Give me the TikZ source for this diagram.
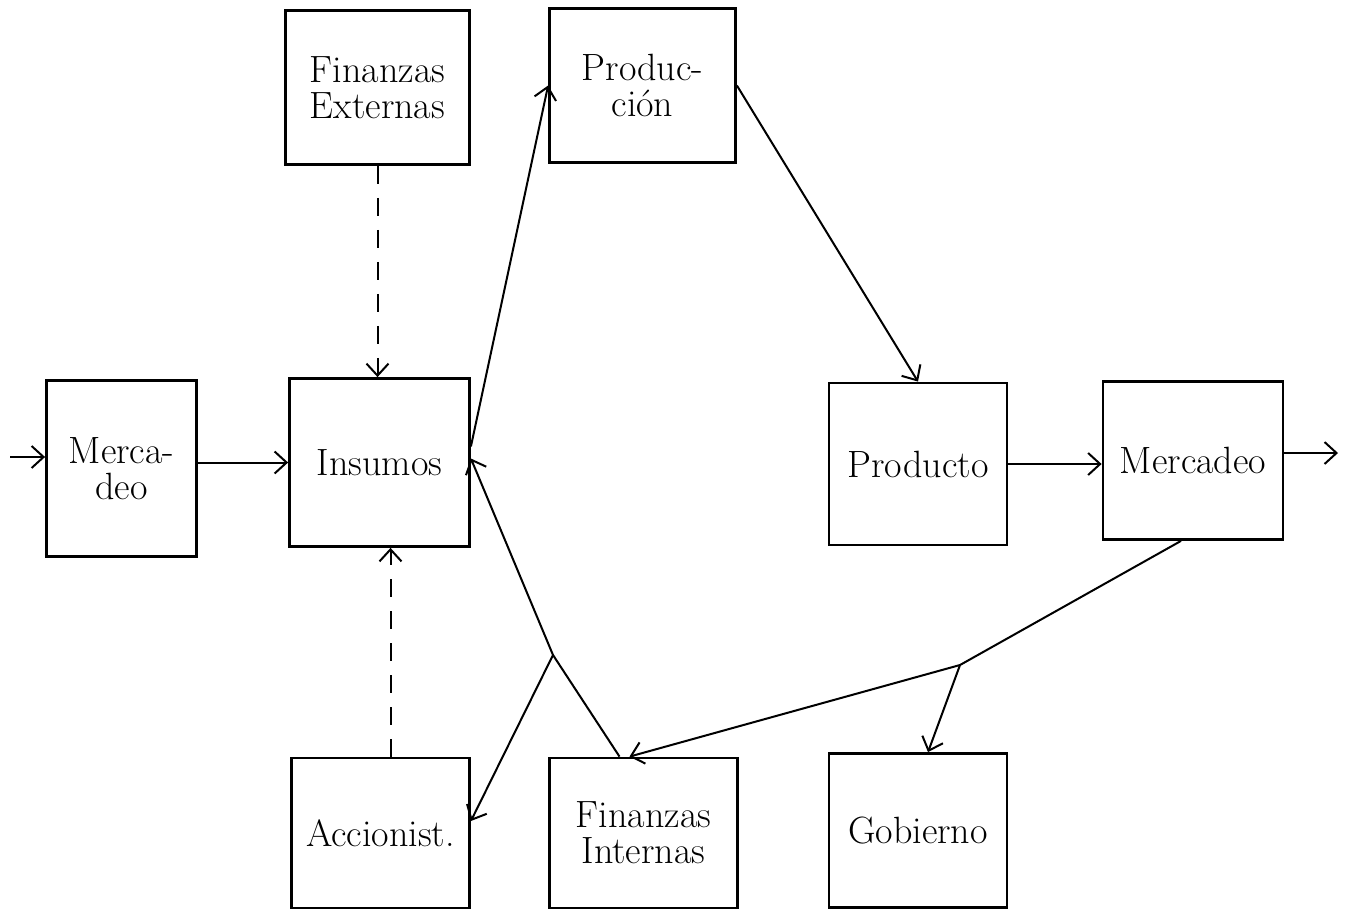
\documentclass[tikz,border=0pt]{standalone}
\usetikzlibrary{arrows.meta}
\tikzset{
  blk/.style={draw, line width=1.4pt, align=center, inner sep=0pt, font=\fontsize{19}{18}\selectfont},
  arr/.style={line width=1pt, -{Straight Barb[length=6pt,width=11pt]}},
  dsh/.style={arr, dash pattern=on 9pt off 7pt}
}
\begin{document}
\begin{tikzpicture}[x=0.5pt, y=-0.5pt]
\useasboundingbox (0,0) rectangle (1348,911);
\node[blk, minimum width=92pt, minimum height=77pt] (finext) at (377.5,87.5){Finanzas\\Externas};
\node[blk, minimum width=93pt, minimum height=77pt] (prod) at (642.5,85.5){Produc-\\ci\'on};
\node[blk, minimum width=75pt, minimum height=88pt] (merc1) at (121.5,468.5){Merca-\\deo};
\node[blk, minimum width=90pt, minimum height=84pt] (insumos) at (379.5,462.5){Insumos};
\node[blk, minimum width=89pt, minimum height=81pt] (producto) at (918,464){Producto};
\node[blk, minimum width=90pt, minimum height=79pt] (merc2) at (1193,460.5){Mercadeo};
\node[blk, minimum width=89pt, minimum height=75pt] (accion) at (380.5,833){Accionist.};
\node[blk, minimum width=94pt, minimum height=75pt] (finint) at (643.5,833){Finanzas\\Internas};
\node[blk, minimum width=89pt, minimum height=77pt] (gob) at (918,830.5){Gobierno};
\coordinate (in) at (10,457);
\coordinate (out) at (1338,453);
\coordinate (jL) at (553,655);
\coordinate (jR) at (960,665);
% entrada y salida
\draw[arr] (in) -- (in -| merc1.west);
\draw[arr] (merc1.east |- insumos.west) -- (insumos.west);
\draw[arr] (merc2.east |- out) -- (out);
% finanzas
\draw[dsh] (finext.south) -- (finext.south |- insumos.north);
\draw[dsh] ([xshift=5pt]accion.north) -- ([xshift=5pt]accion.north |- insumos.south);
% flujo principal
\draw[arr] ([yshift=8pt]insumos.east) -- (prod.west);
\draw[arr] (prod.east) -- (producto.north);
\draw[arr] (producto.east) -- (producto.east -| merc2.west);
\draw[line width=1pt] ([xshift=-6pt]merc2.south) -- (jR);
\draw[arr] (jR) -- ([xshift=5pt]gob.north);
\draw[arr] (jR) -- ([xshift=-7pt]finint.north);
\draw[arr] ([xshift=-12pt]finint.north) -- (jL) -- ([yshift=2pt]insumos.east);
\draw[arr] (jL) -- ([yshift=6pt]accion.east);
\end{tikzpicture}
\end{document}
